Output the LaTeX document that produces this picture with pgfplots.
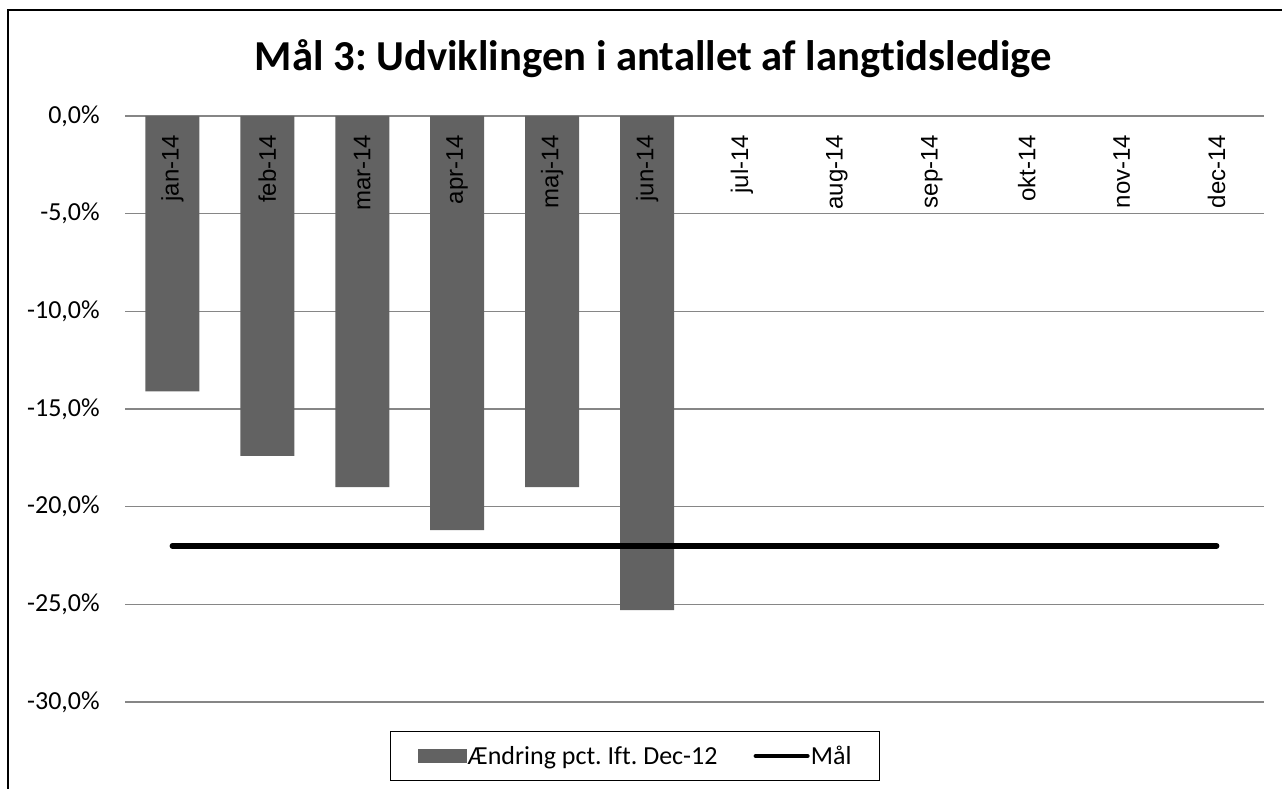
\documentclass[border=0pt]{standalone}
\usepackage{fontspec}
\setmainfont{Carlito}[Ligatures=NoCommon]
\newfontfamily\arialf{Liberation Sans}
\usepackage{pgfplots}
\pgfplotsset{compat=1.18}
\definecolor{barc}{RGB}{98,98,98}
\definecolor{gridc}{RGB}{134,134,134}
\tikzset{catlab/.style={font=\arialf\fontsize{18}{21}\selectfont, yshift=-14pt, rotate=90, anchor=east, inner sep=0pt}}

\begin{document}
\frenchspacing
\begin{tikzpicture}
\useasboundingbox (0,0) rectangle (961.5pt,591.75pt);
% outer chart frame (cropped at right and bottom in the reference)
\draw[black, line width=1.1pt] (6pt,0) -- (6pt,584.25pt) -- (961.5pt,584.25pt);
\node[font=\fontsize{32}{36}\selectfont\bfseries, anchor=base, inner sep=0pt]
  at (490pt,538.5pt) {Mål 3: Udviklingen i antallet af langtidsledige};
\begin{axis}[
    at={(93.75pt,65.25pt)}, anchor=south west,
    scale only axis, width=854.25pt, height=439.5pt,
    xmin=-0.5, xmax=11.5, ymin=-30, ymax=0,
    ytick={-30,-25,...,0},
    xtick=\empty,
    axis line style={draw=none},
    major tick length=0pt,
    ymajorgrids, grid style={gridc, line width=1.1pt},
    /pgf/number format/assume math mode=true,
    yticklabel={\pgfmathprintnumber[fixed,fixed zerofill,precision=1,use comma]{\tick}\%},
    yticklabel style={font=\fontsize{19.5}{23}\selectfont, anchor=east, inner sep=0pt, xshift=-18.75pt},
    legend columns=2,
    legend style={at={(0.448,-0.0922)}, anchor=center, draw=black, line width=0.8pt,
        font=\fontsize{19.5}{23}\selectfont, inner xsep=20pt, inner ysep=9pt,
        nodes={inner xsep=1pt},
        /tikz/every even column/.append style={column sep=26pt}},
    legend cell align=left,
    clip=false,
]
\addplot[ybar, bar width=40.5pt, fill=barc, draw=none,
    legend image code/.code={\fill[barc] (0pt,-5.25pt) rectangle (36.75pt,5.25pt);}]
  coordinates {(0,-14.1) (1,-17.4) (2,-19.0) (3,-21.2) (4,-19.0) (5,-25.3)};
\addlegendentry{Ændring pct. Ift. Dec-12}
\addplot[black, line width=4.3pt, line cap=round, mark=none,
    legend image code/.code={\draw[black, line width=3pt] (0pt,0pt) -- (39pt,0pt);}]
  coordinates {(0,-22) (1,-22) (2,-22) (3,-22) (4,-22) (5,-22) (6,-22) (7,-22) (8,-22) (9,-22) (10,-22) (11,-22)};
\addlegendentry{Mål}
% category names, drawn over the bars just below the zero line
\node[catlab] at (axis cs:0,0) {jan-14};
\node[catlab] at (axis cs:1,0) {feb-14};
\node[catlab] at (axis cs:2,0) {mar-14};
\node[catlab] at (axis cs:3,0) {apr-14};
\node[catlab] at (axis cs:4,0) {maj-14};
\node[catlab] at (axis cs:5,0) {jun-14};
\node[catlab] at (axis cs:6,0) {jul-14};
\node[catlab] at (axis cs:7,0) {aug-14};
\node[catlab] at (axis cs:8,0) {sep-14};
\node[catlab] at (axis cs:9,0) {okt-14};
\node[catlab] at (axis cs:10,0) {nov-14};
\node[catlab] at (axis cs:11,0) {dec-14};
\end{axis}
\end{tikzpicture}
\end{document}
